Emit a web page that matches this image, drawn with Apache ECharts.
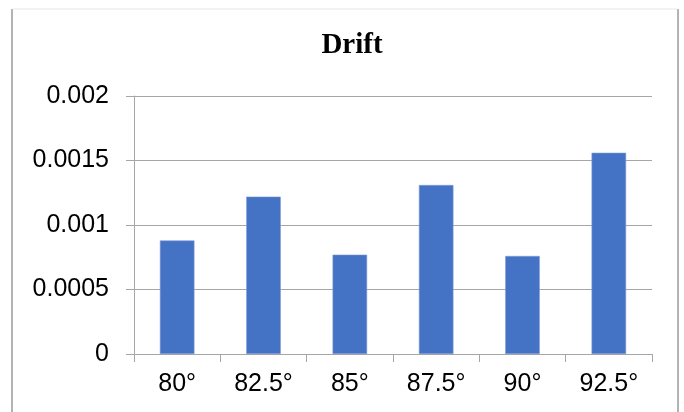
<!DOCTYPE html>
<html>
<head>
<meta charset="utf-8">
<script src="https://cdn.jsdelivr.net/npm/echarts@6/dist/echarts.min.js"></script>
<style>
  html, body { margin: 0; padding: 0; background: #fff; }
  #chart { width: 684px; height: 412px; }
</style>
</head>
<body>
<div id="chart"></div>
<script>
// Drift per angle
const categories = ['80°', '82.5°', '85°', '87.5°', '90°', '92.5°'];
const driftValues = [0.00088, 0.00122, 0.00077, 0.00131, 0.00076, 0.00156];
const yTicks = [0, 0.0005, 0.001, 0.0015, 0.002];

const chart = echarts.init(document.getElementById('chart'), null, { renderer: 'canvas' });

const axisGray = '#a6a6a6';
const labelFont = '"Liberation Sans", Arial, sans-serif';

chart.setOption({
  animation: false,
  backgroundColor: '#ffffff',
  title: {
    text: 'Drift',
    left: 347,
    textAlign: 'center',
    top: 26,
    textStyle: {
      fontFamily: '"Liberation Serif", Cambria, serif',
      fontWeight: 'bold',
      fontSize: 29,
      color: '#000'
    }
  },
  grid: { left: 134, right: 32, top: 96, bottom: 58, containLabel: false },
  xAxis: {
    type: 'category',
    data: categories,
    axisLine: { lineStyle: { color: axisGray, width: 1 } },
    axisTick: { show: true, length: 8, alignWithLabel: false, lineStyle: { color: axisGray } },
    axisLabel: { fontFamily: labelFont, fontSize: 25, color: '#000', margin: 18 }
  },
  yAxis: {
    type: 'value',
    min: yTicks[0],
    max: yTicks[yTicks.length - 1],
    interval: yTicks[1] - yTicks[0],
    axisLine: { show: true, lineStyle: { color: axisGray, width: 1 } },
    axisTick: { show: true, length: 8, lineStyle: { color: axisGray } },
    splitLine: { show: true, lineStyle: { color: axisGray, width: 1 } },
    axisLabel: {
      fontFamily: labelFont, fontSize: 25, color: '#000', margin: 25,
      formatter: v => String(+Number(v).toFixed(4))
    }
  },
  series: [{
    type: 'bar',
    data: driftValues,
    barWidth: '40%',
    itemStyle: { color: '#4472c4', borderColor: '#7d9ad6', borderWidth: 0.6 }
  }],
  graphic: [
    { type: 'line', shape: { x1: 12, y1: 9, x2: 12, y2: 412 }, style: { stroke: '#9a9a9a', lineWidth: 1.5 } },
    { type: 'line', shape: { x1: 678, y1: 9, x2: 678, y2: 412 }, style: { stroke: '#9a9a9a', lineWidth: 1.5 } },
    { type: 'line', shape: { x1: 12, y1: 9, x2: 678, y2: 9 }, style: { stroke: '#e6e6e6', lineWidth: 1 } }
  ]
});
</script>
</body>
</html>
